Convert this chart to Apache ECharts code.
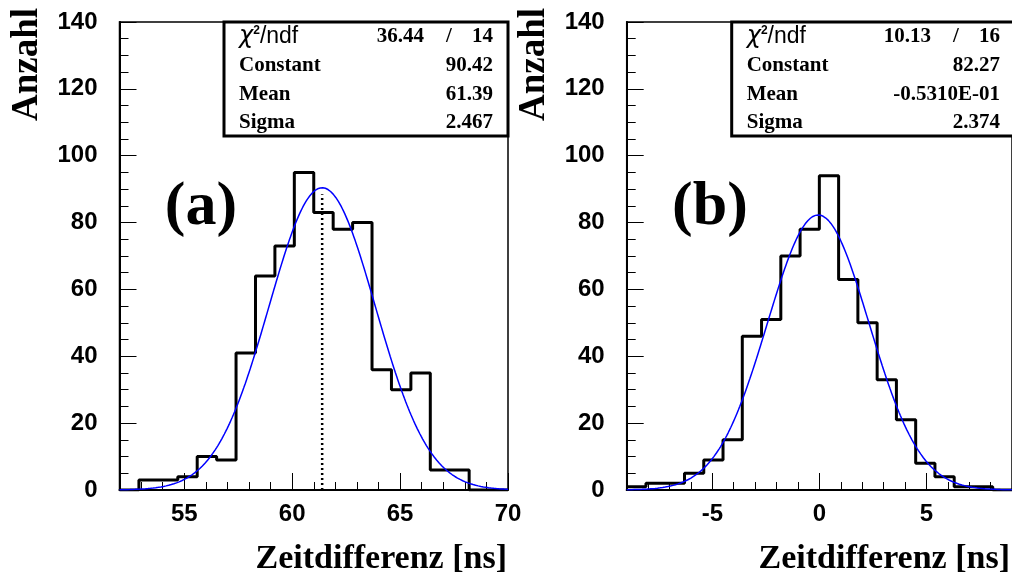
<!DOCTYPE html>
<html>
<head>
<meta charset="utf-8">
<script src="https://cdn.jsdelivr.net/npm/echarts@6/dist/echarts.min.js"></script>
<style>html,body{margin:0;padding:0;background:#fff}#c{width:1012px;height:573px}</style>
</head>
<body>
<div id="c"></div>
<script>
// ---- data ----
const binLowA = 52, binWidthA = 0.9;
const countsA = [0,3,3,4,10,9,41,64,73,95,83,78,80,36,30,35,6,6,0,0];
const fitA = [90.42, 61.39, 2.467]; // constant, mean, sigma
const chiA = ['36.44', '14'];

const binLowB = -9, binWidthB = 0.9;
const countsB = [1,2,2,5,9,15,46,51,70,78,94,63,50,33,21,8,4,1,1,0];
const fitB = [82.27, -0.0531, 2.374];
const chiB = ['10.13', '16'];

const statLabels = ['Constant', 'Mean', 'Sigma'];
const statValuesA = ['90.42', '61.39', '2.467'];
const statValuesB = ['82.27', '-0.5310E-01', '2.374'];

const xRangeA = [52, 70], xMajorA = [55, 60, 65, 70];
const xRangeB = [-9, 9], xMajorB = [-5, 0, 5];
const yRange = [0, 140];

const xTitle = 'Zeitdifferenz [ns]';
const yTitle = 'Anzahl';

// ---- helpers ----
function histPoints(low, w, counts) {
  const pts = [];
  counts.forEach((v, i) => {
    pts.push([+(low + i * w).toFixed(4), v]);
    pts.push([+(low + (i + 1) * w).toFixed(4), v]);
  });
  return pts;
}
function fitPoints(p, range) {
  const pts = [], n = 300;
  for (let i = 0; i <= n; i++) {
    const x = range[0] + (range[1] - range[0]) * i / n;
    pts.push([x, p[0] * Math.exp(-0.5 * Math.pow((x - p[1]) / p[2], 2))]);
  }
  return pts;
}

const chart = echarts.init(document.getElementById('c'), null, {renderer: 'canvas'});

const grids = [
  {left: 119.5, top: 22, width: 388.5, height: 468},
  {left: 626.7, top: 22, width: 387.3, height: 468}
];

function majorX(gi, range, major) {
  return {
    type: 'value', gridIndex: gi, min: range[0], max: range[1], position: 'bottom',
    axisLine: {show: true, onZero: false, lineStyle: {color: '#000', width: 2}},
    axisTick: {show: true, inside: true, length: 17, customValues: major, lineStyle: {color: '#000', width: 1}},
    axisLabel: {show: true, customValues: major, margin: 12, color: '#000',
      fontFamily: 'Liberation Sans', fontWeight: 'bold', fontSize: 24},
    splitLine: {show: false}
  };
}
function minorX(gi, range) {
  return {
    type: 'value', gridIndex: gi, min: range[0], max: range[1], interval: 1, position: 'bottom',
    axisLine: {show: false, onZero: false},
    axisTick: {show: true, inside: true, length: 8, lineStyle: {color: '#000', width: 1}},
    axisLabel: {show: false},
    splitLine: {show: false}
  };
}
function yAx(gi) {
  return {
    type: 'value', gridIndex: gi, min: yRange[0], max: yRange[1], interval: 20,
    axisLine: {show: true, onZero: false, lineStyle: {color: '#000', width: 2}},
    axisTick: {show: true, inside: true, length: 17, lineStyle: {color: '#000', width: 1}},
    minorTick: {show: true, splitNumber: 4, length: 9, lineStyle: {color: '#000', width: 1}},
    axisLabel: {show: true, margin: 22, color: '#000',
      fontFamily: 'Liberation Sans', fontWeight: 'bold', fontSize: 24},
    splitLine: {show: false}, minorSplitLine: {show: false}
  };
}

function statBox(left, right, chi, values) {
  const els = [];
  const top = 22, bottom = 136;
  els.push({type: 'rect', shape: {x: left, y: top, width: right - left, height: bottom - top},
    style: {fill: '#fff', stroke: '#000', lineWidth: 3}, z: 10});
  const tx = left + 15, vx = right - 15;
  const rows = [37, 65.5, 94.5, 123];
  els.push({type: 'text', x: tx, y: rows[0], z: 11, style: {
    text: '{g|χ}{s|2}{c|/ndf}', verticalAlign: 'middle', align: 'left',
    rich: {g: {fontFamily: 'DejaVu Sans', fontStyle: 'italic', fontSize: 24, fill: '#000'},
           c: {fontFamily: 'Liberation Sans', fontSize: 23, fill: '#000'},
           s: {fontFamily: 'Liberation Sans', fontWeight: 'bold', fontSize: 12, fill: '#000', verticalAlign: 'top', padding: [0, 0, 10, 0]}}}});
  const serif = {fontFamily: 'Liberation Serif', fontWeight: 'bold', fontSize: 21, fill: '#000', verticalAlign: 'middle'};
  els.push({type: 'text', x: vx - 69, y: rows[0], z: 11, style: Object.assign({text: chi[0], align: 'right'}, serif)});
  els.push({type: 'text', x: vx - 44, y: rows[0], z: 11, style: Object.assign({text: '/', align: 'center'}, serif)});
  els.push({type: 'text', x: vx, y: rows[0], z: 11, style: Object.assign({text: chi[1], align: 'right'}, serif)});
  statLabels.forEach((lab, i) => {
    els.push({type: 'text', x: tx, y: rows[i + 1], z: 11, style: Object.assign({text: lab, align: 'left'}, serif)});
    els.push({type: 'text', x: vx, y: rows[i + 1], z: 11, style: Object.assign({text: values[i], align: 'right'}, serif)});
  });
  return els;
}

function titles(frameLeft, frameRight, letter, letterX) {
  const serifBig = {fontFamily: 'Liberation Serif', fontWeight: 'bold', fill: '#000'};
  return [
    {type: 'text', x: frameRight - 1, y: 559, z: 5,
      style: Object.assign({text: xTitle, fontSize: 34, align: 'right', verticalAlign: 'middle'}, serifBig)},
    {type: 'text', x: frameLeft - 92, y: 8, rotation: Math.PI / 2, z: 5,
      style: Object.assign({text: yTitle, fontSize: 37, align: 'right', verticalAlign: 'middle'}, serifBig)},
    {type: 'text', x: letterX, y: 208, z: 5,
      style: Object.assign({text: letter, fontSize: 62, align: 'center', verticalAlign: 'middle'}, serifBig)}
  ];
}

const option = {
  animation: false,
  backgroundColor: '#fff',
  grid: grids.map(g => Object.assign({show: true, borderColor: '#000', borderWidth: 1.5, backgroundColor: 'transparent', containLabel: false}, g)),
  xAxis: [majorX(0, xRangeA, xMajorA), minorX(0, xRangeA), majorX(1, xRangeB, xMajorB), minorX(1, xRangeB)],
  yAxis: [yAx(0), yAx(1)],
  series: [
    {type: 'line', xAxisIndex: 0, yAxisIndex: 0, data: histPoints(binLowA, binWidthA, countsA),
      showSymbol: false, symbol: 'none', lineStyle: {color: '#000', width: 3}, z: 3},
    {type: 'line', xAxisIndex: 0, yAxisIndex: 0, data: fitPoints(fitA, xRangeA),
      showSymbol: false, symbol: 'none', smooth: false, lineStyle: {color: '#0000ff', width: 1.5}, z: 4},
    {type: 'line', xAxisIndex: 0, yAxisIndex: 0, data: [[fitA[1], 0], [fitA[1], 88.5]],
      showSymbol: false, symbol: 'none', lineStyle: {color: '#000', width: 2.5, type: [2, 3]}, z: 2},
    {type: 'line', xAxisIndex: 2, yAxisIndex: 1, data: histPoints(binLowB, binWidthB, countsB),
      showSymbol: false, symbol: 'none', lineStyle: {color: '#000', width: 3}, z: 3},
    {type: 'line', xAxisIndex: 2, yAxisIndex: 1, data: fitPoints(fitB, xRangeB),
      showSymbol: false, symbol: 'none', lineStyle: {color: '#0000ff', width: 1.5}, z: 4}
  ],
  graphic: [].concat(
    titles(119.5, 508, '(a)', 201),
    titles(626.7, 1011, '(b)', 710),
    statBox(224, 508, chiA, statValuesA),
    statBox(731.7, 1015, chiB, statValuesB)
  )
};
chart.setOption(option);
</script>
</body>
</html>
